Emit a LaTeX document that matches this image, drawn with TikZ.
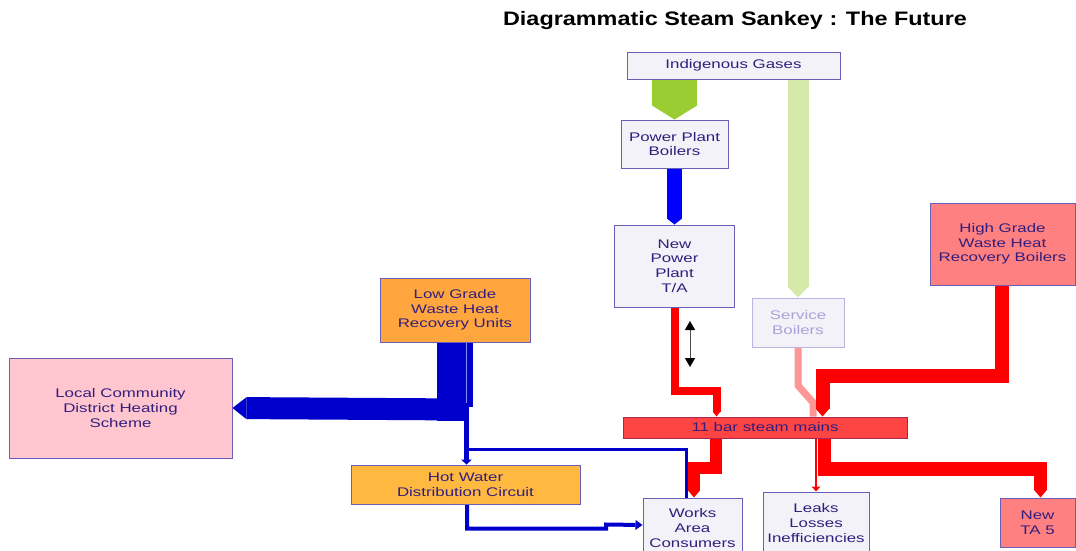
\documentclass[tikz,border=0pt]{standalone}
\usepackage{fontspec}
\setmainfont{Liberation Sans}[FakeStretch=1.35]
\newfontfamily\titlefont{Liberation Sans}[FakeStretch=1.2]
\usetikzlibrary{arrows.meta,calc,backgrounds}
\definecolor{txt}{RGB}{50,30,125}
\definecolor{bord}{RGB}{105,95,185}
\definecolor{lav}{RGB}{243,242,249}
\definecolor{lgfill}{RGB}{255,166,62}
\definecolor{hwfill}{RGB}{255,185,64}
\definecolor{lcfill}{RGB}{255,198,207}
\definecolor{salmon}{RGB}{255,128,128}
\definecolor{mainsfill}{RGB}{255,68,68}
\definecolor{mainsbord}{RGB}{165,40,85}
\definecolor{gasgreen}{RGB}{154,205,50}
\definecolor{palegreen}{RGB}{214,233,169}
\definecolor{bluepp}{RGB}{0,0,255}
\definecolor{blued}{RGB}{0,0,204}
\definecolor{redf}{RGB}{255,0,0}
\definecolor{pinkf}{RGB}{255,150,150}
\definecolor{sbtxt}{RGB}{170,162,215}
\definecolor{sbbord}{RGB}{185,180,228}
\tikzset{
  box/.style={draw=bord, line width=1pt, fill=lav, text=txt, align=center,
    inner sep=0pt, font=\fontsize{12.5pt}{14.6pt}\selectfont},
  flow/.style={line join=miter, line cap=butt},
  ftip/.style 2 args={-{Triangle[length=#1,width=#2,line width=0pt]}},
}
\begin{document}
\begin{tikzpicture}[x=1pt,y=-1pt]
\useasboundingbox (0,0) rectangle (1076,550);

% title
\node[font=\titlefont\fontsize{19.5pt}{22pt}\selectfont\bfseries, text=black] (title) at (735,20) {Diagrammatic Steam Sankey : The Future};

% boxes
\node[box, minimum width=213pt, minimum height=27pt] (ig) at (733.5,65.5) {Indigenous Gases};
\node[box, minimum width=107pt, minimum height=48pt] (ppb) at (674.5,144) {Power Plant\\Boilers};
\node[box, minimum width=120pt, minimum height=82pt] (npp) at (674.5,266) {New\\Power\\Plant\\T/A};
\node[box, draw=sbbord, text=sbtxt, minimum width=92pt, minimum height=49pt] (sb) at (798,322.5) {Service\\Boilers};
\node[box, fill=salmon, minimum width=145pt, minimum height=82pt] (hg) at (1002.5,244) {High Grade\\Waste Heat\\Recovery Boilers};
\node[box, fill=lgfill, minimum width=150pt, minimum height=64pt] (lg) at (455,310) {Low Grade\\Waste Heat\\Recovery Units};
\node[box, fill=lcfill, minimum width=223pt, minimum height=100pt] (lc) at (120.5,408) {Local Community\\District Heating\\Scheme};
\node[box, fill=hwfill, minimum width=229pt, minimum height=39pt] (hw) at (465.5,484.5) {Hot Water\\Distribution Circuit};
\node[box, fill=mainsfill, draw=mainsbord, minimum width=284pt, minimum height=21pt] (mains) at (765,427.5) {11 bar steam mains};
\node[box, minimum width=99pt, minimum height=60pt] (wac) at (692.5,528) {Works\\Area\\Consumers};
\node[box, minimum width=106pt, minimum height=62pt] (ll) at (816,523) {Leaks\\Losses\\Inefficiencies};
\node[box, fill=salmon, minimum width=75pt, minimum height=49pt] (nta) at (1037.5,522.5) {New\\TA 5};

\coordinate (da1) at (690,321);
\coordinate (da2) at (690,367);
\coordinate (j) at (466.5,449);

\begin{pgfonlayer}{background}
\fill[white] (0,0) rectangle (1076,550);
% gases
\draw[flow, gasgreen, line width=45pt, ftip={14pt}{45pt}] (ig.south -| ppb.north) -- (ppb.north);
\draw[flow, palegreen, line width=21pt, ftip={11pt}{21pt}] (ig.south -| sb.north) -- (sb.north);
% power plant
\draw[flow, bluepp, line width=15pt, ftip={6pt}{15pt}] (ppb.south) -- (npp.north);
\draw[flow, redf, line width=8pt, ftip={5pt}{8pt}] (npp.south) -- ++(0,83) -| ($(mains.north)+(-48.5,0)$);
% service boilers
\draw[flow, pinkf, line width=7pt] (sb.south) -- ++(0,38) -- ++(15,17) -- ($(mains.north)+(48,0)$);
% high grade
\draw[flow, redf, line width=14pt, ftip={8pt}{14pt}] ($(hg.south)+(-1,0)$) -- ++(0,90) -| ($(mains.north)+(57.5,0)$);
% mains outputs
\draw[flow, redf, line width=12pt, ftip={7pt}{12pt}] ($(mains.south)+(-49,0)$) -- ++(0,29.5) -| ($(wac.north)+(1.5,0)$);
\draw[flow, redf, line width=2pt, -{Triangle[length=5pt,width=9pt,line width=0pt]}] (ll.north |- mains.south) -- (ll.north);
\draw[flow, redf, line width=13.5pt, ftip={8pt}{13.5pt}] ($(mains.south)+(59.5,0)$) -- ++(0,30.5) -| ($(nta.north)+(3,0)$);
% low grade
\draw[flow, blued, line width=29pt] ($(lg.south)+(-3.5,0)$) -- ++(0,78);
\draw[flow, blued, line width=22pt, ftip={14pt}{22pt}] ($(lg.south)+(11,67)$) -- (lc.east);
\draw[flow, blued, line width=7pt] ($(lg.south)+(14.5,0)$) -- ++(0,64);
\draw[blue!45!white, line width=0.6pt] ($(lg.south)+(11,0)$) -- ++(0,64);
\draw[flow, blued, line width=5pt, -{Triangle[length=5pt,width=11pt,line width=0pt]}] ($(lg.south)+(11.5,60)$) -- ($(hw.north)+(1,0)$);
\draw[flow, blued, line width=3pt] (j) -| ($(wac.north)+(-6,0)$);
\draw[flow, blued, line width=4pt, -{Triangle[length=7pt,width=10pt,line width=0pt]}] ($(hw.south)+(1.5,0)$) -- ++(0,24) -- ++(139,0) -- ++(0,-4) -- ($(wac.west)+(0,-3)$);
% double arrow
\draw[gray!60!black, line width=1pt, {Triangle[length=9pt,width=10pt,black]}-{Triangle[length=9pt,width=10pt,black]}] (da1) -- (da2);
\end{pgfonlayer}
\end{tikzpicture}
\end{document}
